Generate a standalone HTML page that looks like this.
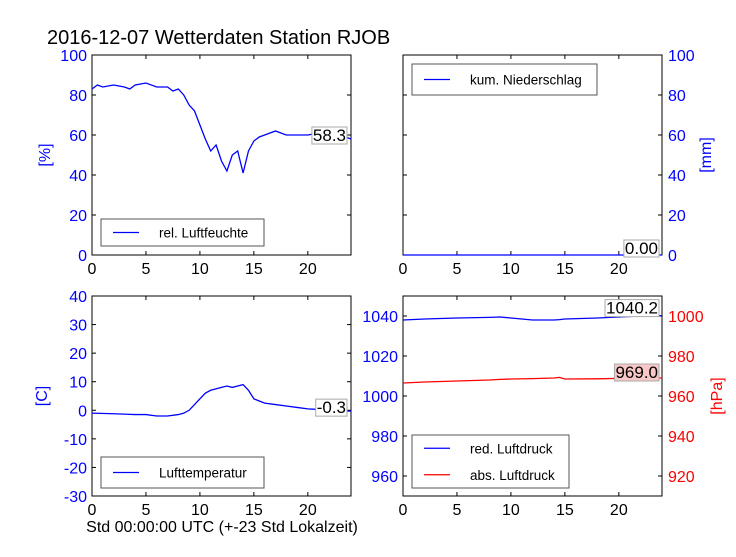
<!DOCTYPE html>
<html><head><meta charset="utf-8"><style>
body{margin:0;background:#fff;font-family:"Liberation Sans",sans-serif}
svg text{font-family:"Liberation Sans",sans-serif}
</style></head><body>
<svg id="c" width="736" height="552" xmlns="http://www.w3.org/2000/svg">
<rect width="736" height="552" fill="#fff"/>
<text x="47" y="44" font-size="20">2016-12-07 Wetterdaten Station RJOB</text>
<g id="g"></g>
</svg>
<script>
const hours=[0,0.5,1,2,3,3.5,4,5,6,7,7.5,8,8.5,9,9.5,10,10.5,11,11.5,12,12.5,13,13.5,14,14.5,15,15.5,16,17,18,19,20,21,22,23,24];
const humidity=[83,85,84,85,84,83,85,86,84,84,82,83,80,75,72,65,58,52,55,47,42,50,52,41,52,57,59,60,62,60,60,60,61,60,60,58];
const tHours=[0,2,4,5,6,7,8,8.5,9,9.5,10,10.5,11,12,12.5,13,13.5,14,14.5,15,16,17,18,19,20,21,22,23,24];
const temperature=[-1,-1.2,-1.5,-1.5,-2,-2,-1.5,-1,0,2,4,6,7,8,8.5,8,8.5,9,7,4,2.5,2,1.5,1,0.5,0.3,0,-0.2,-0.3];
const pHours=[0,2,5,8,9,10,12,14,14.5,15,18,20,22,24];
const redPressure=[1038,1038.5,1039,1039.3,1039.5,1039,1038,1038,1038.2,1038.5,1039,1039.5,1040,1040.2];
const absPressure=[966.5,967,967.5,968,968.3,968.5,968.7,969,969.3,968.5,968.6,968.8,969,969];
const rainHours=[0,24];
const rain=[0,0];
const xTicks=[0,5,10,15,20];
const g=document.getElementById('g');const NS='http://www.w3.org/2000/svg';
function el(t,a,p){const e=document.createElementNS(NS,t);for(const k in a)e.setAttribute(k,a[k]);(p||g).appendChild(e);return e;}
function panel(x0,y0,ymin,ymax,name){
 const w=259,h=200;
 return {x:v=>x0+v/24*w,y:v=>y0+h-(v-ymin)/(ymax-ymin)*h,x0,y0,w,h,name};
}
function frame(p,lt,lc,rt,rc,rmin,rmax){
 const r=el('rect',{x:p.x0,y:p.y0,width:p.w,height:p.h,fill:'none',stroke:'#000','stroke-width':1});
 
 xTicks.forEach(t=>{const X=p.x(t);el('line',{x1:X,x2:X,y1:p.y0+p.h,y2:p.y0+p.h-4,stroke:'#000'});el('line',{x1:X,x2:X,y1:p.y0,y2:p.y0+4,stroke:'#000'});
  const tx=el('text',{x:X,y:p.y0+p.h+19,'font-size':16,'text-anchor':'middle'});tx.textContent=t;
  });
 if(lt) lt.forEach(t=>{const Y=p.y(t);el('line',{x1:p.x0,x2:p.x0+4,y1:Y,y2:Y,stroke:'#000'});el('line',{x1:p.x0+p.w,x2:p.x0+p.w-4,y1:Y,y2:Y,stroke:'#000'});
  const tx=el('text',{x:p.x0-5,y:Y+6,'font-size':16,'text-anchor':'end',fill:lc});tx.textContent=t;
  });
 if(rt){rt.forEach(t=>{const Y=p.y0+p.h-(t-rmin)/(rmax-rmin)*p.h;el('line',{x1:p.x0+p.w,x2:p.x0+p.w-4,y1:Y,y2:Y,stroke:'#000'});el('line',{x1:p.x0,x2:p.x0+4,y1:Y,y2:Y,stroke:'#000'});
  const tx=el('text',{x:p.x0+p.w+6,y:Y+6,'font-size':16,fill:rc});tx.textContent=t;
  });}
}
function line(p,xs,ys,col,name,yf){
 const f=yf||p.y;
 const pl=el('polyline',{points:xs.map((x,i)=>p.x(x)+','+f(ys[i])).join(' '),fill:'none',stroke:col,'stroke-width':1.3});
 
}
function ylab(x,y,t,col,name){const tx=el('text',{x:x,y:y,'font-size':16,fill:col,'text-anchor':'middle',transform:`rotate(-90 ${x} ${y})`});tx.textContent=t;}
function legend(x,y,w,h,items,name){
 const r=el('rect',{x,y,width:w,height:h,fill:'#fff',stroke:'#555'});
 items.forEach((it,i)=>{const yy=y+h/(items.length)*(i+0.5);el('line',{x1:x+12,x2:x+38,y1:yy,y2:yy,stroke:it[1],'stroke-width':1.3});
  const tx=el('text',{x:x+58,y:yy+5,'font-size':13.5});tx.textContent=it[0];});
}
function valbox(xr,yc,t,bg,name){const tx=el('text',{x:xr,y:yc+6,'font-size':17,'text-anchor':'end'});tx.textContent=t;const b=tx.getBBox();
 const r=el('rect',{x:b.x-1,y:b.y+1,width:b.width+2,height:b.height-2,fill:bg,stroke:'#aaa'});g.insertBefore(r,tx);
 }
const p1=panel(92,55,0,100,'humidity');
frame(p1,[0,20,40,60,80,100],'#00f');
line(p1,hours,humidity,'#00f','humidity-line');
legend(101,219,163,27,[['rel. Luftfeuchte','#00f']],'humidity-legend');
valbox(346,p1.y(humidity[humidity.length-1])-4,'58.3','#fff','humidity-last-value');
ylab(50,155,'[%]','#00f','humidity-y-title');
const p2=panel(403,55,0,100,'rain');
frame(p2,null,null,[0,20,40,60,80,100],'#00f',0,100);
line(p2,rainHours,rain,'#00f','rain-line');
legend(412,64,185,31,[['kum. Niederschlag','#00f']],'rain-legend');
valbox(658,p2.y(0)-7,'0.00','#fff','rain-last-value');
ylab(711,155,'[mm]','#00f','rain-y-title');
const p3=panel(92,296,-30,40,'temperature');
frame(p3,[-30,-20,-10,0,10,20,30,40],'#00f');
line(p3,tHours,temperature,'#00f','temperature-line');
legend(101,457,163,31,[['Lufttemperatur','#00f']],'temperature-legend');
valbox(346,p3.y(temperature[temperature.length-1])-4,'-0.3','#fff','temperature-last-value');
ylab(47,396,'[C]','#00f','temperature-y-title');
const xl=el('text',{x:222,y:532,'font-size':16,'text-anchor':'middle'});xl.textContent='Std 00:00:00 UTC (+-23 Std Lokalzeit)';

const p4=panel(403,296,950,1050,'pressure');
frame(p4,[960,980,1000,1020,1040],'#00f',[920,940,960,980,1000],'#f00',910,1010);
const yr=v=>296+200-(v-910)/100*200;
line(p4,pHours,redPressure,'#00f','red-pressure-line');
line(p4,pHours,absPressure,'#f00','abs-pressure-line',yr);
legend(412,435,157,53,[['red. Luftdruck','#00f'],['abs. Luftdruck','#f00']],'pressure-legend');
valbox(658,p4.y(redPressure[redPressure.length-1])-8,'1040.2','#fff','red-pressure-last-value');
valbox(658,yr(absPressure[absPressure.length-1])-6,'969.0','#f8c8c8','abs-pressure-last-value');
ylab(722,396,'[hPa]','#f00','pressure-y-title');
</script>
</body></html>
